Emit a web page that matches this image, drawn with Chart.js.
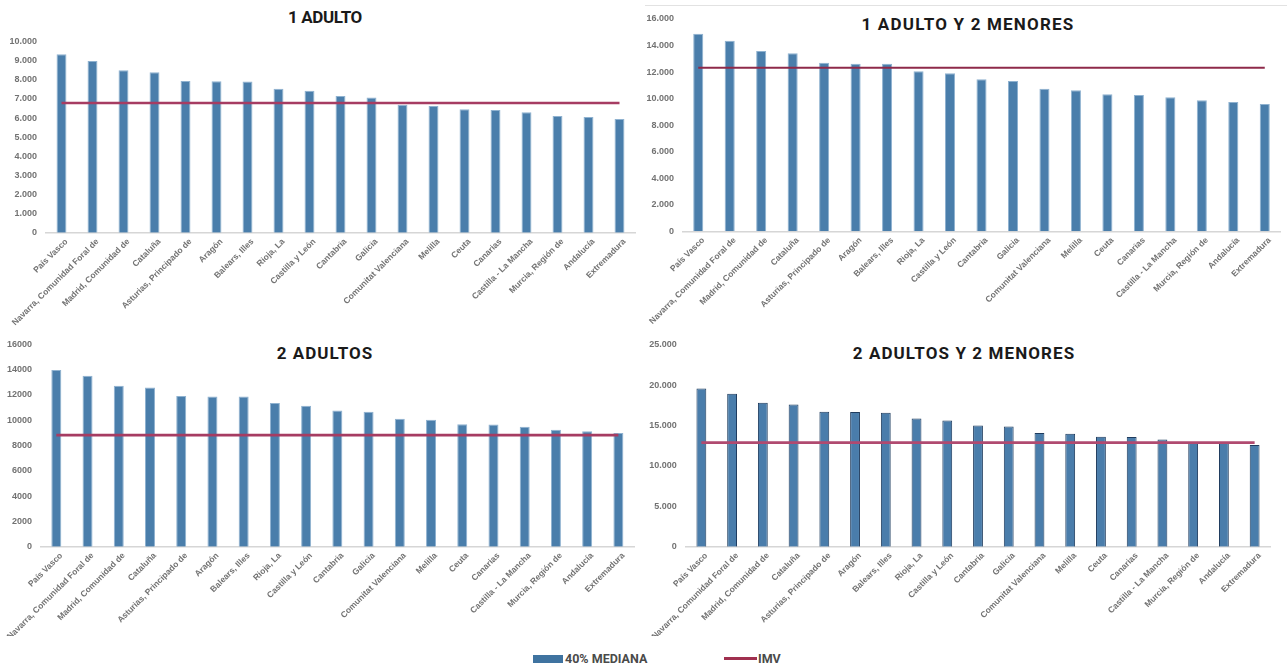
<!DOCTYPE html>
<html lang="es">
<head>
<meta charset="utf-8">
<title>Umbral 40% de la mediana e IMV por comunidad autónoma</title>
<script src="https://cdn.jsdelivr.net/npm/chart.js@4/dist/chart.umd.min.js"></script>
<style>
  html, body { margin: 0; padding: 0; background: #ffffff; }
  body { width: 1287px; height: 668px; position: relative; overflow: hidden; font-family: Roboto, "Liberation Sans", sans-serif; }
  canvas { position: absolute; }
  .titulo { position: absolute; width: 400px; text-align: center; font-family: Roboto, sans-serif; font-weight: 700;
            font-size: 17px; line-height: 17px; color: #1a1a1a; white-space: nowrap; }
  .borde-sup { position: absolute; left: 645px; top: 5px; width: 642px; height: 0; border-top: 1px solid #e2e2e2; }
  .leyenda { position: absolute; top: 652px; font-family: Roboto, sans-serif; font-weight: 700; font-size: 12.5px;
             line-height: 14px; color: #4a4a4a; white-space: nowrap; }
  .sw-barra { position: absolute; left: 533px; top: 655px; width: 30px; height: 8px; background: #3f73a0; }
  .sw-linea { position: absolute; left: 724px; top: 657px; width: 33px; height: 3px; background: #a0304f; }
</style>
</head>
<body>

<div class="borde-sup"></div>

<div class="titulo" style="left:125px; top:9px; letter-spacing:-0.4px;">1 ADULTO</div>
<div class="titulo" style="left:768px; top:16px; letter-spacing:1.2px;">1 ADULTO Y 2 MENORES</div>
<div class="titulo" style="left:125px; top:345px; letter-spacing:1px;">2 ADULTOS</div>
<div class="titulo" style="left:764px; top:345px; letter-spacing:1.1px;">2 ADULTOS Y 2 MENORES</div>

<canvas id="g1" width="640" height="330" style="left:0px; top:0px;"></canvas>
<canvas id="g2" width="647" height="330" style="left:640px; top:0px;"></canvas>
<canvas id="g3" width="640" height="306" style="left:0px; top:330px;"></canvas>
<canvas id="g4" width="647" height="306" style="left:640px; top:330px;"></canvas>

<div class="sw-barra"></div>
<div class="leyenda" style="left:565px;">40% MEDIANA</div>
<div class="sw-linea"></div>
<div class="leyenda" style="left:758px;">IMV</div>

<script>
// Comunidades autónomas, ordenadas de mayor a menor umbral
const categorias = [
  'País Vasco', 'Navarra, Comunidad Foral de', 'Madrid, Comunidad de', 'Cataluña',
  'Asturias, Principado de', 'Aragón', 'Balears, Illes', 'Rioja, La', 'Castilla y León',
  'Cantabria', 'Galicia', 'Comunitat Valenciana', 'Melilla', 'Ceuta', 'Canarias',
  'Castilla - La Mancha', 'Murcia, Región de', 'Andalucía', 'Extremadura'
];

// Umbral del 40% de la mediana (euros/año) por tipo de hogar
const mediana1Adulto = [9340, 8990, 8500, 8400, 7940, 7930, 7910, 7540, 7430, 7160, 7080, 6700, 6640, 6460, 6420, 6300, 6110, 6060, 5950];
const mediana1Adulto2Menores = [14890, 14360, 13590, 13410, 12710, 12630, 12620, 12060, 11910, 11450, 11330, 10750, 10630, 10320, 10270, 10100, 9870, 9740, 9590];
const mediana2Adultos = [13950, 13510, 12720, 12570, 11900, 11870, 11860, 11350, 11140, 10750, 10650, 10100, 10020, 9680, 9660, 9480, 9240, 9110, 8980];
const mediana2Adultos2Menores = [19570, 18920, 17820, 17610, 16710, 16670, 16590, 15860, 15610, 15000, 14880, 14060, 13970, 13600, 13570, 13280, 12870, 12820, 12590];

// Ingreso Mínimo Vital (euros/año) por tipo de hogar
const imv1Adulto = 6790;
const imv1Adulto2Menores = 12330;
const imv2Adultos = 8810;
const imv2Adultos2Menores = 12880;

// Escalas del eje vertical: [máximo, paso]
const eje1Adulto = [10000, 1000];
const eje1Adulto2Menores = [16000, 2000];
const eje2Adultos = [16000, 2000];
const eje2Adultos2Menores = [25000, 5000];

const conPunto = v => String(v).replace(/\B(?=(\d{3})+(?!\d))/g, '.');
const sinPunto = v => String(v);

const GRIS = '#727272';

function grafico(id, valores, imv, eje, formato, geo, estilo) {
  const ctx = document.getElementById(id).getContext('2d');
  return new Chart(ctx, {
    data: {
      labels: categorias,
      datasets: [
        {
          type: 'line',
          label: 'IMV',
          data: [{ x: categorias[0], y: imv }, { x: categorias[categorias.length - 1], y: imv }],
          borderColor: estilo.linea,
          borderWidth: estilo.grosor,
          pointRadius: 0,
          fill: false,
          order: 0
        },
        {
          type: 'bar',
          label: '40% MEDIANA',
          data: valores,
          backgroundColor: estilo.barra,
          borderColor: estilo.bordeBarra,
          borderWidth: 1,
          borderSkipped: 'bottom',
          categoryPercentage: 1,
          barPercentage: 0.32,
          order: 1
        }
      ]
    },
    options: {
      responsive: false,
      animation: false,
      layout: { padding: { top: geo.top, right: geo.right, left: 0, bottom: 0 } },
      plugins: { legend: { display: false }, tooltip: { enabled: false }, title: { display: false } },
      scales: {
        x: {
          offset: true,
          grid: { display: false, drawTicks: false },
          border: { display: true, color: '#d6d6d6', width: 1.5 },
          ticks: {
            autoSkip: false, maxRotation: 45, minRotation: 45, padding: 4, labelOffset: 5,
            color: GRIS, font: { family: '"Liberation Sans", Arial, sans-serif', size: 8.5, weight: 'bold' }
          },
          afterFit: s => { s.height = geo.xAlto; }
        },
        y: {
          min: 0, max: eje[0],
          grid: { display: false, drawTicks: false },
          border: { display: false },
          ticks: {
            stepSize: eje[1], padding: geo.yPad, callback: formato,
            color: GRIS, font: { family: '"Liberation Sans", Arial, sans-serif', size: 9, weight: 'bold' }
          },
          afterFit: s => { s.width = geo.yAncho; }
        }
      }
    }
  });
}

const estiloClaro = { barra: '#4a7eab', bordeBarra: '#8fb2d0', linea: '#a63c62', grosor: 2.6 };

grafico('g1', mediana1Adulto, imv1Adulto, eje1Adulto, conPunto,
  { top: 41.7, right: 5, xAlto: 97.3, yAncho: 46, yPad: 9 }, estiloClaro);

grafico('g2', mediana1Adulto2Menores, imv1Adulto2Menores, eje1Adulto2Menores, conPunto,
  { top: 19, right: 6.5, xAlto: 98.7, yAncho: 42.5, yPad: 8.5 },
  { barra: '#4a7eab', bordeBarra: '#8fb2d0', linea: '#8e2a4a', grosor: 2 });

grafico('g3', mediana2Adultos, imv2Adultos, eje2Adultos, sinPunto,
  { top: 11.7, right: 6, xAlto: 89.3, yAncho: 40.7, yPad: 8.7 }, estiloClaro);

grafico('g4', mediana2Adultos2Menores, imv2Adultos2Menores, eje2Adultos2Menores, conPunto,
  { top: 12.7, right: 17, xAlto: 89.3, yAncho: 46, yPad: 9.3 },
  { barra: '#4a7dab', bordeBarra: '#1f3c5e', linea: '#b04a70', grosor: 2.6 });
</script>
</body>
</html>
